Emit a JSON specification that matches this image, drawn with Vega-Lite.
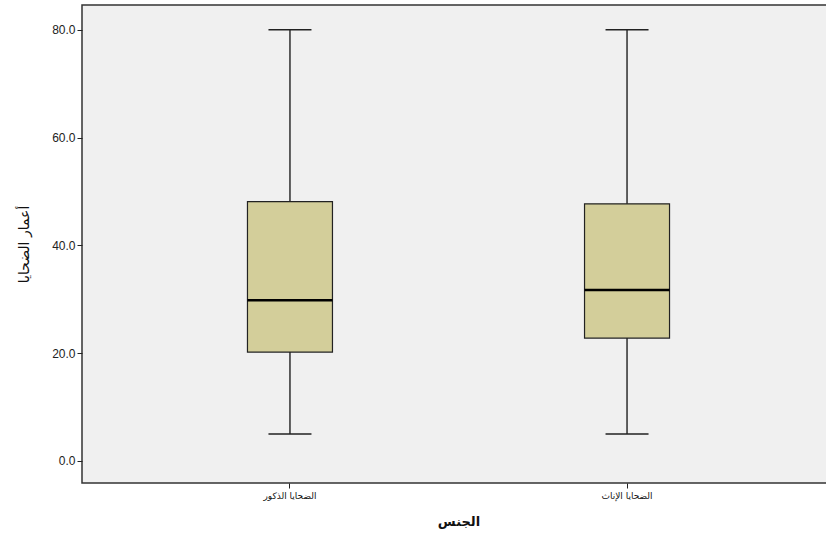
{
  "$schema": "https://vega.github.io/schema/vega-lite/v6.json",
  "width": 746,
  "height": 478,
  "autosize": {"type": "none"},
  "padding": {"left": 82, "top": 5, "right": 0, "bottom": 54},
  "background": "#ffffff",
  "config": {
    "view": {"fill": "#f0f0f0", "stroke": "#333", "strokeWidth": 1.5},
    "font": "Liberation Sans"
  },
  "data": {
    "values": [
      {"group": "الضحايا الذكور", "min": 5, "q1": 20.2, "median": 29.8, "q3": 48.1, "max": 80},
      {"group": "الضحايا الإناث", "min": 5, "q1": 22.8, "median": 31.7, "q3": 47.7, "max": 80}
    ]
  },
  "encoding": {
    "x": {
      "field": "group",
      "type": "nominal",
      "sort": null,
      "scale": {"range": [0, 753], "paddingInner": 0, "paddingOuter": 0.117},
      "axis": {
        "title": "الجنس",
        "titleFont": "DejaVu Sans",
        "titleFontSize": 13,
        "titleFontWeight": "bold",
        "titleColor": "#111",
        "titlePadding": 15,
        "labelFont": "DejaVu Sans",
        "labelFontSize": 9,
        "labelColor": "#111",
        "labelAngle": 0,
        "labelPadding": 3,
        "tickSize": 5,
        "tickColor": "#222",
        "domain": false
      }
    }
  },
  "layer": [
    {
      "mark": {"type": "rule", "color": "#111", "strokeWidth": 1.3},
      "encoding": {
        "y": {
          "field": "min",
          "type": "quantitative",
          "scale": {"domain": [-4.1, 84.6], "nice": false, "zero": false},
          "axis": {
            "title": "أعمار الضحايا",
            "titleFont": "DejaVu Sans",
            "titleFontSize": 14,
            "titleFontWeight": "normal",
            "titleColor": "#111",
            "titlePadding": 20,
            "values": [0, 20, 40, 60, 80],
            "format": ".1f",
            "labelFont": "Liberation Sans",
            "labelFontSize": 12,
            "labelColor": "#222",
            "labelPadding": 2,
            "tickSize": 5,
            "tickColor": "#222",
            "domain": false,
            "grid": false
          }
        },
        "y2": {"field": "max"}
      }
    },
    {
      "mark": {"type": "bar", "size": 85, "fill": "#d3ce9a", "stroke": "#222", "strokeWidth": 1.2},
      "encoding": {
        "y": {"field": "q1", "type": "quantitative"},
        "y2": {"field": "q3"}
      }
    },
    {
      "mark": {"type": "tick", "size": 85, "thickness": 2.5, "color": "#000", "opacity": 1},
      "encoding": {"y": {"field": "median", "type": "quantitative"}}
    },
    {
      "mark": {"type": "tick", "size": 43, "thickness": 1.5, "color": "#222", "opacity": 1},
      "encoding": {"y": {"field": "max", "type": "quantitative"}}
    },
    {
      "mark": {"type": "tick", "size": 43, "thickness": 1.5, "color": "#222", "opacity": 1},
      "encoding": {"y": {"field": "min", "type": "quantitative"}}
    }
  ]
}
